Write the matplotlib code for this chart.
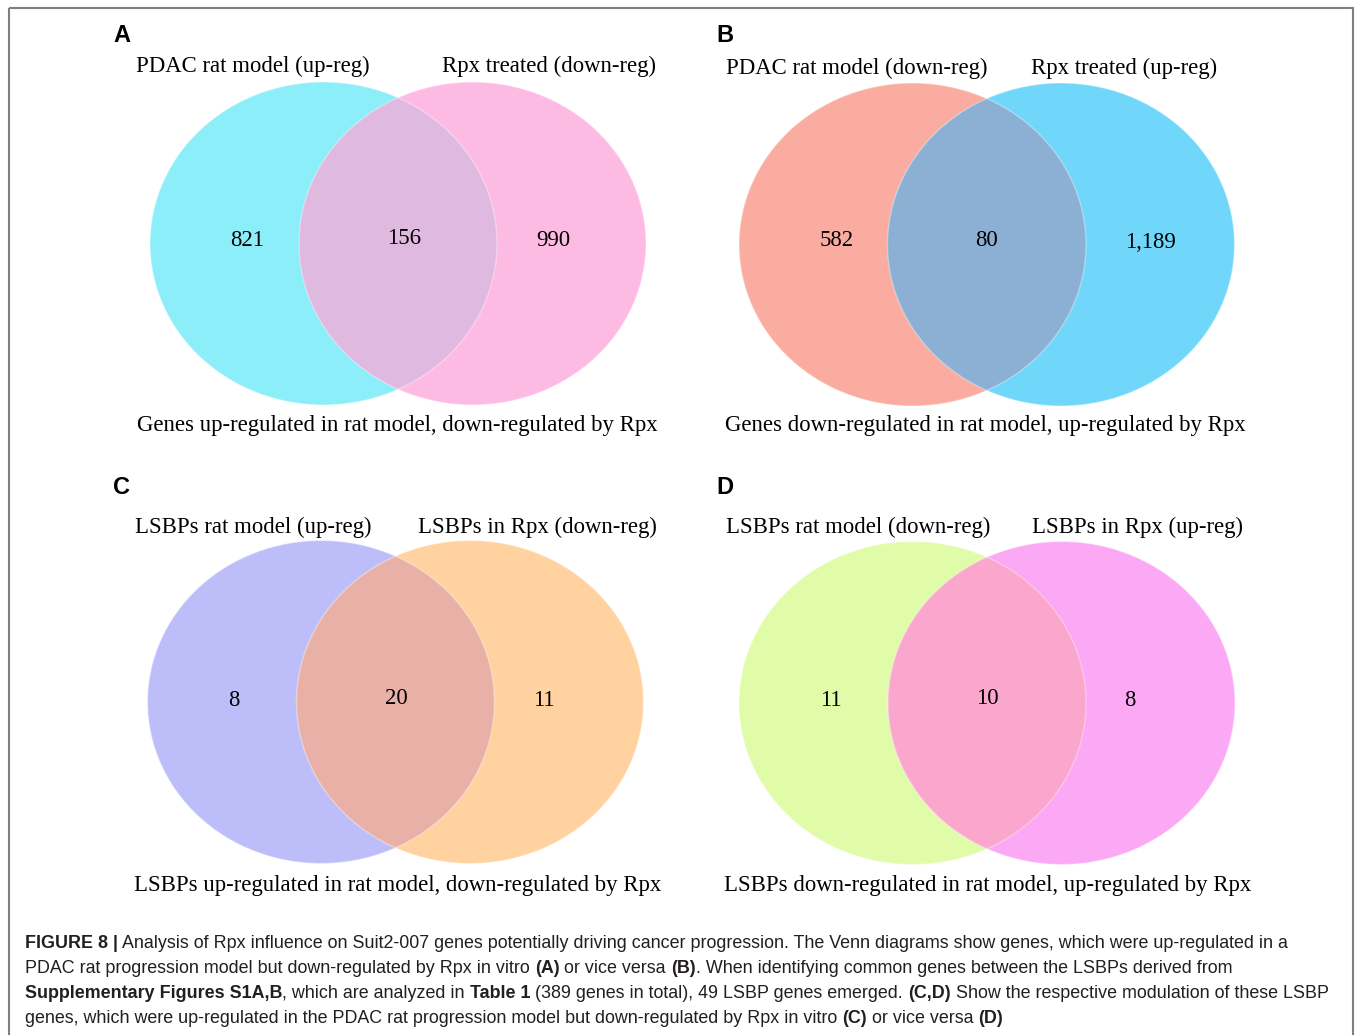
import matplotlib.pyplot as plt
from matplotlib.patches import Ellipse, Rectangle

# Venn counts: (left only, shared, right only)
counts_a = ['821', '156', '990']
counts_b = ['582', '80', '1,189']
counts_c = ['8', '20', '11']
counts_d = ['11', '10', '8']

set_names_a = ['PDAC rat model (up-reg)', 'Rpx treated (down-reg)']
set_names_b = ['PDAC rat model (down-reg)', 'Rpx treated (up-reg)']
set_names_c = ['LSBPs rat model (up-reg)', 'LSBPs in Rpx (down-reg)']
set_names_d = ['LSBPs rat model (down-reg)', 'LSBPs in Rpx (up-reg)']

subtitles = [
    'Genes up-regulated in rat model, down-regulated by Rpx',
    'Genes down-regulated in rat model, up-regulated by Rpx',
    'LSBPs up-regulated in rat model, down-regulated by Rpx',
    'LSBPs down-regulated in rat model, up-regulated by Rpx',
]

# left colour, right colour, overlap colour
colors_a = ['#8ceef9', '#fdbbe4', '#e0b9e0']
colors_b = ['#fbaca0', '#70d6fa', '#8cb0d3']
colors_c = ['#bdbef9', '#ffd2a0', '#e9b0a8']
colors_d = ['#e0fca8', '#fba8f5', '#fba6cc']

SERIF = 'Liberation Serif'
SANS = 'Liberation Sans'
FS = 16.4

W, H = 1355, 1035
fig = plt.figure(figsize=(W / 100, H / 100), dpi=100)
ax = fig.add_axes([0, 0, 1, 1])
ax.set_xlim(0, W)
ax.set_ylim(H, 0)
ax.axis('off')

# frame round the figure
ax.add_patch(Rectangle((9, 8), 1344, 1040, fill=False, ec='#7f7f7f', lw=1.5))


def label(x, y, s, **kw):
    ax.text(x, y + 2, s, fontsize=FS, family=SERIF, ha='center',
            va='center', zorder=4, **kw)


def venn(letter, lpos, cl, cr, cy, names, name_x, name_y, counts, count_x,
         count_y, colors, subtitle, sub_pos):
    w, h = 347, 323
    left = Ellipse((cl, cy), w, h, fc=colors[0], ec='none', zorder=1)
    right = Ellipse((cr, cy), w, h, fc=colors[1], ec='none', zorder=1)
    ax.add_patch(left)
    ax.add_patch(right)
    mid = Ellipse((cr, cy), w, h, fc=colors[2], ec='none', zorder=2)
    ax.add_patch(mid)
    mid.set_clip_path(left)
    for cx in (cl, cr):
        ax.add_patch(Ellipse((cx, cy), w, h, fc='none', ec='white',
                             lw=1.0, alpha=0.35, zorder=3))

    ax.text(lpos[0], lpos[1], letter, fontsize=17, fontweight='bold',
            family=SANS, ha='center', va='center')
    for s, x in zip(names, name_x):
        label(x, name_y, s)
    for s, x, y in zip(counts, count_x, count_y):
        label(x, y, s)
    label(sub_pos[0], sub_pos[1], subtitle)


venn('A', (122, 35), 323.5, 472.5, 243.5, set_names_a, (253, 549), 64,
     counts_a, (247, 404, 553), (238, 237, 239), colors_a, subtitles[0],
     (397, 424))
venn('B', (725, 35), 912.5, 1061, 244.5, set_names_b, (857, 1124), 66,
     counts_b, (837, 987, 1150), (239, 238, 240), colors_b, subtitles[1],
     (985, 424))
venn('C', (122, 488), 321, 470, 702, set_names_c, (253, 537), 525,
     counts_c, (234, 396, 544), (698, 697, 699), colors_c, subtitles[2],
     (398, 883))
venn('D', (725, 488), 912.5, 1061.5, 703, set_names_d, (858, 1137), 525,
     counts_d, (831, 987, 1130), (698, 697, 699), colors_d, subtitles[3],
     (988, 884))

# figure legend, written run by run so bold parts sit inline
caption = [
    [('FIGURE 8 |', True),
     (' Analysis of Rpx influence on Suit2-007 genes potentially driving cancer '
      'progression. The Venn diagrams show genes, which were up-regulated in a', False)],
    [('PDAC rat progression model but down-regulated by Rpx in vitro ', False),
     ('(A)', True), (' or vice versa ', False), ('(B)', True),
     ('. When identifying common genes between the LSBPs derived from', False)],
    [('Supplementary Figures S1A,B', True), (', which are analyzed in ', False),
     ('Table 1', True),
     (' (389 genes in total), 49 LSBP genes emerged. ', False),
     ('(C,D)', True), (' Show the respective modulation of these LSBP', False)],
    [('genes, which were up-regulated in the PDAC rat progression model but '
      'down-regulated by Rpx in vitro ', False),
     ('(C)', True), (' or vice versa ', False), ('(D)', True)],
]

fig.canvas.draw()
renderer = fig.canvas.get_renderer()
inv = ax.transData.inverted()
y = 948
for line in caption:
    x = 25
    for txt, bold in line:
        t = ax.text(x, y, txt, fontsize=12.9, family=SANS, color='#231f20',
                    fontweight='bold' if bold else 'normal',
                    ha='left', va='baseline')
        bb = t.get_window_extent(renderer)
        x = inv.transform((bb.x1, bb.y0))[0]
    y += 25

fig.savefig('out.png', dpi=100)
